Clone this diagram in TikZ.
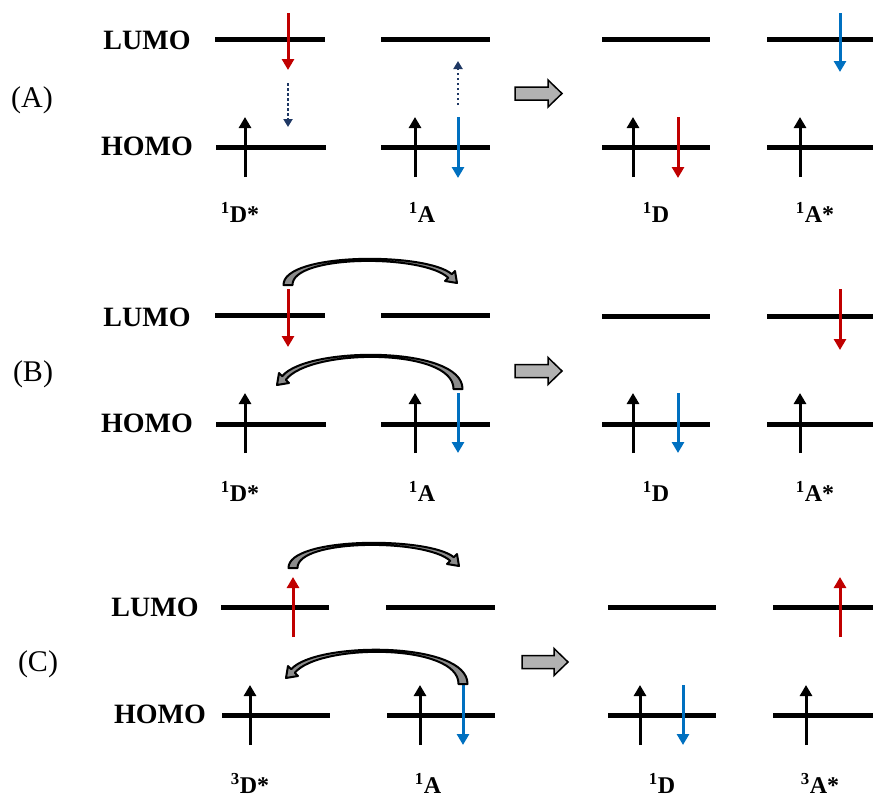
\documentclass[tikz,border=0pt]{standalone}
\usepackage{fontspec}
\setmainfont{Liberation Serif}
\usetikzlibrary{arrows.meta}
\definecolor{ered}{HTML}{C00000}
\definecolor{eblue}{HTML}{0070C0}
\definecolor{enavy}{HTML}{1F3864}
\tikzset{
  level/.style={line width=5pt},
  elec/.style={line width=3pt, -{Triangle[length=11pt,width=12pt]}},
  hop/.style={line width=2.5pt, dash pattern=on 2.5pt off 2.5pt, enavy, -{Triangle[length=8pt,width=9pt]}},
  garrow/.style={fill=gray!60, draw=black, line width=1.5pt, line join=miter},
  carrow/.style={fill=gray!90, draw=black, line width=2pt, line join=round},
  orb/.style={inner sep=0pt, font=\fontsize{28}{30}\selectfont\bfseries},
  panel/.style={inner sep=0pt, font=\fontsize{30}{32}\selectfont},
  state/.style={inner sep=0pt, font=\fontsize{24}{26}\selectfont\bfseries},
}
\newcommand\grayarrow[4]{%
  \filldraw[garrow] (#1,{#3-6.5}) -- ({#2-14},{#3-6.5}) -- ({#2-14},{#3-13.5}) -- (#2,#3)
    -- ({#2-14},{#3+13.5}) -- ({#2-14},{#3+6.5}) -- (#1,{#3+6.5}) -- cycle;
  \coordinate (#4) at ({(#1+#2)/2},#3);}
\newcommand\archarrow[6]{%
  \begin{scope}[shift={(#1,#2)},xscale=#3]
  \filldraw[carrow] (-4.5,1) .. controls (-5,{(-8*#6-1-(#5-8.8))/6}) and ({#4-30},{(-8*#6-1-(#5-8.8))/6}) .. ({#4-5.2},{#5-8.8})
    -- ({#4-2},{#5-12}) -- (#4,#5) -- ({#4-12},{#5-2}) -- ({#4-8.8},{#5-5.2})
    .. controls ({#4-33},{(-8*(#6-2)-1-(#5-5.2))/6}) and (4,{(-8*(#6-2)-1-(#5-5.2))/6}) .. (4.5,1) -- cycle;
  \end{scope}}
\newcommand\sps[1]{\textsuperscript{#1}}
\begin{document}
\begin{tikzpicture}[x=1pt,y=-1pt]
\useasboundingbox (0,0) rectangle (873,798);
% ---------------- Panel A ----------------
\node[orb] (lA) at (147,40) {LUMO};
\node[orb] (hA) at (147,146) {HOMO};
\node[panel] (pA) at (32,100) {(A)};
\draw[level] (215,39) -- (325,39);
\draw[level] (381,39) -- (490,39);
\draw[level] (216,147) -- (326,147);
\draw[level] (381,147) -- (490,147);
\draw[level] (602,39) -- (710,39);
\draw[level] (767,39) -- (873,39);
\draw[level] (602,147) -- (710,147);
\draw[level] (767,147) -- (873,147);
\draw[elec,ered] (288,13) -- (288,70);
\draw[elec,black] (245,177) -- (245,117);
\draw[elec,black] (415,177) -- (415,117);
\draw[elec,eblue] (458,117) -- (458,178);
\draw[elec,black] (633,177) -- (633,117);
\draw[elec,ered] (678,117) -- (678,178);
\draw[elec,black] (800,177) -- (800,117);
\draw[elec,eblue] (840,13) -- (840,72);
\draw[hop] (288,83) -- (288,127);
\draw[hop] (458,105) -- (458,61);
\grayarrow{515}{562}{93.5}{gA}
\node[state] (sA1) at (240,212) {\sps{1}D*};
\node[state] (sA2) at (422,212) {\sps{1}A};
\node[state] (sA3) at (656,212) {\sps{1}D};
\node[state] (sA4) at (815,212) {\sps{1}A*};
% ---------------- Panel B ----------------
\node[orb] (lB) at (147,317) {LUMO};
\node[orb] (hB) at (147,423) {HOMO};
\node[panel] (pB) at (33,374) {(B)};
\draw[level] (215,315) -- (325,315);
\draw[level] (381,315) -- (490,315);
\draw[level] (216,424) -- (326,424);
\draw[level] (381,424) -- (490,424);
\draw[level] (602,316) -- (710,316);
\draw[level] (767,316) -- (873,316);
\draw[level] (602,424) -- (710,424);
\draw[level] (767,424) -- (873,424);
\draw[elec,ered] (288,289) -- (288,347);
\draw[elec,black] (245,453) -- (245,393);
\draw[elec,black] (415,453) -- (415,393);
\draw[elec,eblue] (458,393) -- (458,453);
\draw[elec,black] (633,453) -- (633,393);
\draw[elec,eblue] (678,393) -- (678,453);
\draw[elec,black] (800,453) -- (800,393);
\draw[elec,ered] (840,289) -- (840,350);
\archarrow{288}{284}{1}{169}{-1}{25}
\archarrow{458}{388}{-1}{181}{-3}{33}
\grayarrow{515}{562}{371}{gB}
\node[state] (sB1) at (240,491) {\sps{1}D*};
\node[state] (sB2) at (422,491) {\sps{1}A};
\node[state] (sB3) at (656,491) {\sps{1}D};
\node[state] (sB4) at (815,491) {\sps{1}A*};
% ---------------- Panel C ----------------
\node[orb] (lC) at (155,607) {LUMO};
\node[orb] (hC) at (160,714) {HOMO};
\node[panel] (pC) at (38,664) {(C)};
\draw[level] (221,607) -- (329,607);
\draw[level] (386,607) -- (495,607);
\draw[level] (222,715) -- (330,715);
\draw[level] (387,715) -- (495,715);
\draw[level] (608,607) -- (716,607);
\draw[level] (773,607) -- (873,607);
\draw[level] (608,715) -- (716,715);
\draw[level] (773,715) -- (873,715);
\draw[elec,ered] (293,637) -- (293,577);
\draw[elec,black] (250,745) -- (250,685);
\draw[elec,black] (420,745) -- (420,685);
\draw[elec,eblue] (463,685) -- (463,745);
\draw[elec,black] (640,745) -- (640,685);
\draw[elec,eblue] (683,685) -- (683,745);
\draw[elec,black] (806,745) -- (806,685);
\draw[elec,ered] (840,637) -- (840,577);
\archarrow{293}{567}{1}{166}{-1}{24}
\archarrow{463}{683}{-1}{177}{-5}{33}
\grayarrow{522}{568}{662}{gC}
\node[state] (sC1) at (250,783) {\sps{3}D*};
\node[state] (sC2) at (428,783) {\sps{1}A};
\node[state] (sC3) at (662,783) {\sps{1}D};
\node[state] (sC4) at (820,783) {\sps{3}A*};
\end{tikzpicture}
\end{document}
